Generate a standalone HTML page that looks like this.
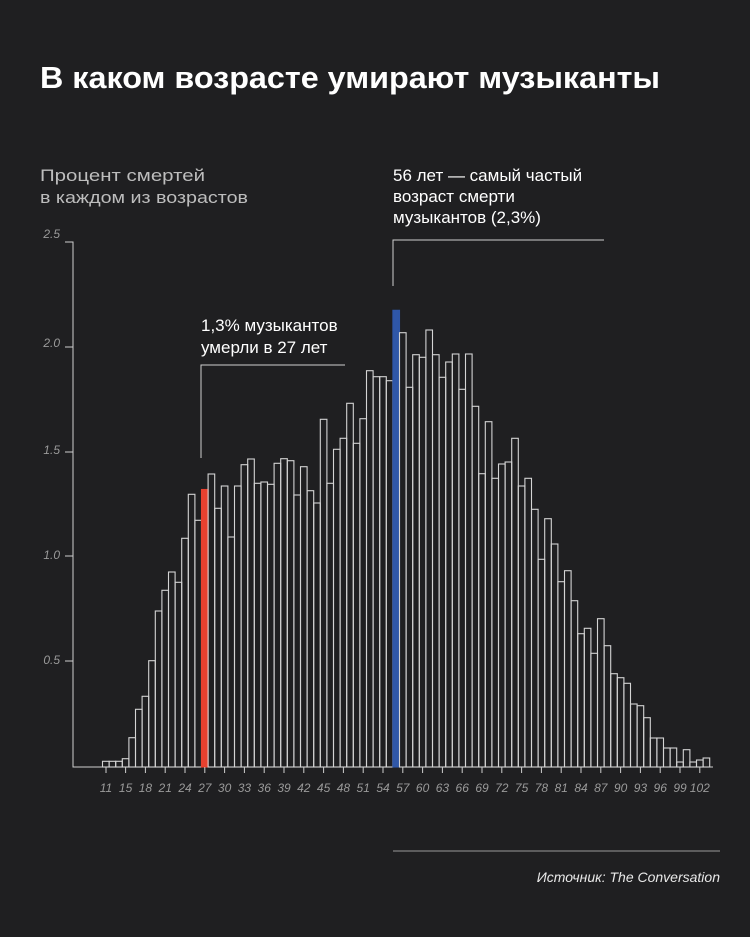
<!DOCTYPE html>
<html><head><meta charset="utf-8"><style>
html,body{margin:0;padding:0;background:#1e1e20;}
svg{display:block;}
</style></head><body>
<svg id="s" width="750" height="937" viewBox="0 0 750 937" xmlns="http://www.w3.org/2000/svg">
<rect width="750" height="937" fill="#1f1f21"/>
<text x="40" y="88" fill="#fff" font-family="Liberation Sans, sans-serif" font-weight="bold" font-size="31" textLength="620" lengthAdjust="spacingAndGlyphs">В каком возрасте умирают музыканты</text>
<g font-family="Liberation Sans, sans-serif" font-size="17" fill="#bdbdbd">
<text x="40" y="181" textLength="165" lengthAdjust="spacingAndGlyphs">Процент смертей</text>
<text x="40" y="203" textLength="208" lengthAdjust="spacingAndGlyphs">в каждом из возрастов</text>
</g>
<g font-family="Liberation Sans, sans-serif" font-size="17" fill="#fff">
<text x="393" y="181">56 лет — самый частый</text>
<text x="393" y="202">возраст смерти</text>
<text x="393" y="223">музыкантов (2,3%)</text>
<text x="201" y="331">1,3% музыкантов</text>
<text x="201" y="353">умерли в 27 лет</text>
</g>
<g stroke="#cfcfcf" stroke-width="1" fill="none">
<polyline points="393,286 393,240 604,240"/>
<polyline points="201,458 201,365 345,365"/>
<line x1="393" y1="851" x2="720" y2="851" stroke="#999"/>
<polyline points="65,242 73,242 73,767 713,767"/>
<line x1="65" y1="347" x2="73" y2="347"/>
<line x1="65" y1="452" x2="73" y2="452"/>
<line x1="65" y1="556" x2="73" y2="556"/>
<line x1="65" y1="661" x2="73" y2="661"/>
</g>
<g font-family="Liberation Sans, sans-serif" font-style="italic" font-size="12" fill="#9a9a9a" text-anchor="end">
<text x="60" y="238">2.5</text>
<text x="60" y="347">2.0</text>
<text x="60" y="454">1.5</text>
<text x="60" y="559">1.0</text>
<text x="60" y="664">0.5</text>
</g>
<g id="bars"></g>
<g id="xl" font-family="Liberation Sans, sans-serif" font-style="italic" font-size="12" fill="#9a9a9a" text-anchor="middle"></g>
<text x="720" y="882" text-anchor="end" font-family="Liberation Sans, sans-serif" font-style="italic" font-size="14" fill="#e8e8e8">Источник: The Conversation</text>
</svg>
<script>
var tops={12:761.3,13:761.3,14:761.3,15:758.7,16:737.7,17:709.3,18:696.3,19:660.7,20:611,21:590.3,22:572,23:582.3,24:538.3,25:494.3,26:520.3,27:489.5,28:474,29:508.3,30:486,31:537,32:486,33:464.7,34:459,35:483.3,36:482,37:484.3,38:463.3,39:458.7,40:460.7,41:495,42:466.7,43:490.7,44:503,45:419.3,46:483.3,47:449.3,48:438.3,49:403.3,50:443.3,51:418.7,52:370.7,53:376.7,54:376.7,55:380.7,56:310.3,57:332.7,58:387.3,59:354.7,60:357.3,61:330,62:354.7,63:377.3,64:362,65:354,66:389.3,67:354,68:406.3,69:473.7,70:421.7,71:478.3,72:464,73:462,74:438.3,75:486,76:478.3,77:509.3,78:559.3,79:518.7,80:544,81:581.7,82:570.7,83:600.7,84:633.7,85:628.3,86:653.3,87:618.7,88:645.7,89:673.7,90:677.7,91:683.3,92:704,93:705.7,94:717.7,95:738,96:738,97:748,98:748,99:762,100:749.7,101:762,102:760,103:758};
var ns="http://www.w3.org/2000/svg",g=document.getElementById('bars'),xl=document.getElementById('xl');
for(var a=12;a<=103;a++){var x=201.5+(a-27)*6.6,t=tops[a];var r=document.createElementNS(ns,'rect');
r.setAttribute('x',x);r.setAttribute('y',t);r.setAttribute('width',6.6);r.setAttribute('height',767-t);
if(a==27){r.setAttribute('fill','#e8412f');r.setAttribute('stroke','#e8412f');}
else if(a==56){r.setAttribute('fill','#2f57a8');r.setAttribute('stroke','#2f57a8');}
else{r.setAttribute('fill','none');r.setAttribute('stroke','#d4d4d4');}
r.setAttribute('stroke-width','1.1');g.appendChild(r);}
function lab(v,x){var t=document.createElementNS(ns,'text');t.setAttribute('x',x);t.setAttribute('y',792);t.textContent=v;xl.appendChild(t);
var l=document.createElementNS(ns,'line');l.setAttribute('x1',x);l.setAttribute('x2',x);l.setAttribute('y1',767);l.setAttribute('y2',773);l.setAttribute('stroke','#cfcfcf');g.appendChild(l);}
lab(11,106);for(var v=15;v<=102;v+=3)lab(v,204.8+(v-27)*6.6);
</script>
</body></html>
